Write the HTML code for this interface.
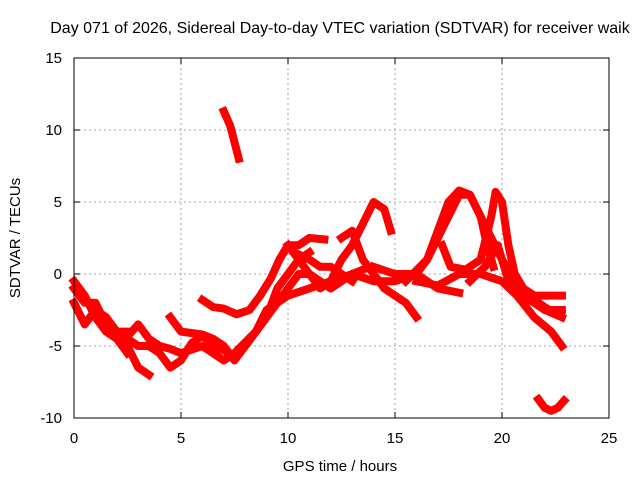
<!DOCTYPE html>
<html><head><meta charset="utf-8"><style>
body{margin:0;background:#fff}
svg{display:block;font-family:"Liberation Sans",sans-serif}
</style></head><body>
<svg id="chart" width="640" height="480" viewBox="0 0 640 480">
<rect width="640" height="480" fill="#fff"/>
<text x="340" y="33" font-size="16" text-anchor="middle" fill="#000">Day 071 of 2026, Sidereal Day-to-day VTEC variation (SDTVAR) for receiver waik</text>
<text x="340" y="471" font-size="15" text-anchor="middle">GPS time / hours</text>
<text transform="translate(20,238) rotate(-90)" font-size="15" text-anchor="middle">SDTVAR / TECUs</text>
<g id="grid"></g>
<g id="series"></g>
<rect x="74" y="58" width="535" height="360" fill="none" stroke="#000" stroke-width="1"/>
<g id="ticks"></g>
</svg>
<script>
const xTicks=[0,5,10,15,20,25];
const yTicks=[-10,-5,0,5,10,15];
const track1=[[0,-0.5],[0.5,-1.5],[1,-3],[1.5,-4],[2,-4.5],[2.5,-5.5]];
const track2=[[0,-1],[0.5,-2],[1,-2],[1.5,-3.5],[2,-4],[2.5,-4]];
const track3=[[0,-2],[0.5,-3.5],[1,-2.5],[1.5,-3],[2.5,-5],[3,-6.5],[3.5,-7]];
const track4=[[2.5,-4.5],[3,-5],[3.5,-5],[4,-5.5],[4.5,-6.5],[5,-6],[5.5,-4.8],[6,-4.3],[6.5,-5],[7,-5.3],[7.5,-5.8]];
const track5=[[2.7,-4],[3,-3.5],[3.5,-4.5],[4,-5],[4.5,-5.2],[5,-5.5],[6,-5],[7,-6],[7.5,-5.5]];
const track6=[[4.5,-3],[5,-4],[6,-4.2],[6.5,-4.5],[7,-5],[7.5,-6],[8,-5],[9,-3],[9.5,-1],[10,0],[10.5,1],[11,1.5]];
const track7=[[6,-1.8],[6.5,-2.3],[7,-2.4],[7.6,-2.8],[8.2,-2.5],[8.7,-1.5],[9.2,-0.3],[9.6,1],[10,2],[10.5,2],[11,2.5],[11.7,2.4]];
const track8=[[7,11.3],[7.3,10.3],[7.7,8]];
const track9=[[7.5,-5.5],[8.5,-4],[9,-2.5],[10,-1.5],[11,-1],[12,-0.5],[13,0],[13.5,0.3]];
const track10=[[8,-5],[9,-3],[9.5,-2],[10.5,0],[11,0],[12,-1],[13,0],[14,-0.5],[15,-0.5],[16,0],[17,-1],[18,-1.3]];
const track11=[[10,2],[11,0],[11.5,-1],[12,-0.5],[12.5,1],[13,2],[13.5,3.5],[14,5],[14.5,4.5],[14.8,3]];
const track12=[[10.3,1.5],[11,1],[11.5,0.5],[12,0.5],[12.5,0],[13,-0.5]];
const track13=[[12.5,2.5],[13,3],[13.5,1],[14,0],[14.5,-1],[15,-1.5],[15.5,-2],[16,-3]];
const track14=[[14,0.5],[15,0],[16,0],[16.5,1],[17,2.5],[17.5,4],[18,5.5],[18.5,5.5],[19,4],[19.5,2.5],[20,1],[21,-1.5],[22,-2.5],[22.8,-3]];
const track15=[[15.5,-0.5],[16.5,1],[17,3],[17.5,5],[18,5.8],[18.5,5.5],[19,4],[19.3,2],[19.6,0.5]];
const track16=[[17.2,2],[17.6,0.5],[18.3,0.3],[19,1],[19.5,4],[19.7,5.7],[20,5],[20.3,2],[20.6,0],[21,-1],[21.5,-1.5],[22.2,-1.5],[22.8,-1.5]];
const track17=[[16,-0.5],[17,-0.8],[18,0],[19,0],[20,-0.5],[20.7,-1.5],[21.5,-3],[22.3,-4],[22.8,-5]];
const track18=[[18.5,-0.5],[19.2,0.5],[19.8,2],[20.2,0],[20.8,-1.5],[21.5,-1.8],[22.2,-2.5],[22.8,-2.5]];
const track19=[[21.7,-8.7],[22,-9.3],[22.3,-9.5],[22.6,-9.3],[22.9,-8.8]];
const tracks=[track1,track2,track3,track4,track5,track6,track7,track8,track9,track10,track11,track12,track13,track14,track15,track16,track17,track18,track19];

const X0=74,X1=609,Y0=418,Y1=58;
const xs=t=>X0+(t-0)/(25-0)*(X1-X0);
const ys=v=>Y0-(v+10)/(25)*(Y0-Y1);
const NS="http://www.w3.org/2000/svg";
const grid=document.getElementById('grid'),ticks=document.getElementById('ticks'),series=document.getElementById('series');
function mk(tag,attrs,parent){const e=document.createElementNS(NS,tag);for(const k in attrs)e.setAttribute(k,attrs[k]);parent.appendChild(e);return e;}
xTicks.forEach(t=>{
  const x=xs(t);
  if(t>0&&t<25){const g=mk('line',{x1:x,x2:x,y1:Y1,y2:Y0,stroke:'#a0a0a0','stroke-dasharray':'2,3'},grid);
  
  }
  mk('line',{x1:x,x2:x,y1:Y0,y2:Y0-6,stroke:'#000'},ticks);
  mk('line',{x1:x,x2:x,y1:Y1,y2:Y1+6,stroke:'#000'},ticks);
  const l=mk('text',{x:x,y:443,'font-size':15,'text-anchor':'middle'},ticks);l.textContent=t;
  
  
});
yTicks.forEach(v=>{
  const y=ys(v);
  if(v>-10&&v<15){const g=mk('line',{x1:X0,x2:X1,y1:y,y2:y,stroke:'#a0a0a0','stroke-dasharray':'2,3'},grid);
  
  }
  mk('line',{x1:X0,x2:X0+6,y1:y,y2:y,stroke:'#000'},ticks);
  mk('line',{x1:X1,x2:X1-6,y1:y,y2:y,stroke:'#000'},ticks);
  const l=mk('text',{x:62,y:y+5,'font-size':15,'text-anchor':'end'},ticks);l.textContent=v;
  
  
});
tracks.forEach((tr,i)=>{
  const p=mk('polyline',{points:tr.map(d=>xs(d[0]).toFixed(1)+','+ys(d[1]).toFixed(1)).join(' '),fill:'none',stroke:'#ff0000','stroke-width':8,'stroke-linejoin':'round','stroke-linecap':'square'},series);
  
  
});
</script>
</body></html>
